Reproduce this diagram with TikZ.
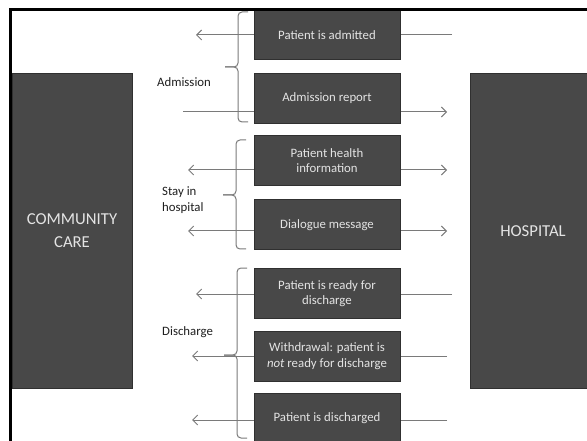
\documentclass[tikz,border=0pt]{standalone}
\usepackage{fontspec}
\setmainfont{Carlito}
\usepackage{tikz}
\usetikzlibrary{arrows.meta, positioning, calc}
\definecolor{BoxGrey}{HTML}{484848}
\definecolor{BoxEdge}{HTML}{303030}
\definecolor{BoxText}{HTML}{E4E4E4}
\definecolor{LineGrey}{HTML}{7A7A7A}
\definecolor{LabelInk}{HTML}{1E1E1E}
\tikzset{
  msgbox/.style={rectangle, fill=BoxGrey, draw=BoxEdge, line width=1pt,
                 minimum width=146pt, minimum height=50pt, text=BoxText,
                 font=\fontsize{12.8}{15.5}\selectfont, align=center},
  sidebox/.style={rectangle, fill=BoxGrey, draw=BoxEdge, line width=1pt,
                  minimum height=314pt, text=BoxText,
                  font=\fontsize{16.7}{23}\selectfont, align=center},
  flow/.style={draw=LineGrey, line width=1pt},
  arr/.style={flow, -{Straight Barb[length=5pt,width=10pt]}},
  brace/.style={draw=LineGrey, line width=1pt, rounded corners=4pt},
  grouplabel/.style={text=LabelInk, font=\fontsize{12.8}{16}\selectfont,
                     align=left, inner sep=0pt, anchor=west}
}

\begin{document}
\begin{tikzpicture}[x=1pt, y=-1pt]
    \clip (0,0) rectangle (587,441);

    % The two parties
    \node[sidebox, minimum width=120pt] (community) at (72,231) {COMMUNITY\\CARE};
    \node[sidebox, minimum width=126pt] (hospital) at (533,231) {HOSPITAL};

    % Messages
    \node[msgbox] (admitted) at (327,35) {Patient is admitted};
    \node[msgbox] (report) at (327,98.5) {Admission report};
    \node[msgbox] (health) at (327,160.5) {Patient health\\information};
    \node[msgbox] (dialogue) at (327,225) {Dialogue message};
    \node[msgbox] (ready) at (327,293.5) {Patient is ready for\\discharge};
    \node[msgbox] (withdrawal) at (327,356) {Withdrawal: patient is\\\textit{not} ready for discharge};
    \node[msgbox] (discharged) at (327,418) {Patient is discharged};

    % Loose ends of the arrows
    \coordinate (admittedC) at (196,35);   \coordinate (admittedH) at (452,35);
    \coordinate (reportC) at (183,112);    \coordinate (reportH) at (447,112);
    \coordinate (healthC) at (188,170);    \coordinate (healthH) at (447,170);
    \coordinate (dialogueC) at (188,231);  \coordinate (dialogueH) at (447,231);
    \coordinate (readyC) at (196,294);     \coordinate (readyH) at (452,294);
    \coordinate (withdrawalC) at (192,356); \coordinate (withdrawalH) at (447,356);
    \coordinate (dischargedC) at (192,420); \coordinate (dischargedH) at (447,420);

    % Admission
    \draw[arr] (admittedC -| admitted.west) -- (admittedC);
    \draw[flow] (admittedH) -- (admittedH -| admitted.east);
    \draw[flow] (reportC) -- (reportC -| report.west);
    \draw[arr] (reportH -| report.east) -- (reportH);

    % Stay in hospital
    \draw[arr] (healthC -| health.west) -- (healthC);
    \draw[arr] (healthH -| health.east) -- (healthH);
    \draw[arr] (dialogueC -| dialogue.west) -- (dialogueC);
    \draw[arr] (dialogueH -| dialogue.east) -- (dialogueH);

    % Discharge
    \draw[arr] (readyC -| ready.west) -- (readyC);
    \draw[flow] (readyH) -- (readyH -| ready.east);
    \draw[arr] (withdrawalC -| withdrawal.west) -- (withdrawalC);
    \draw[flow] (withdrawalH) -- (withdrawalH -| withdrawal.east);
    \draw[arr] (dischargedC -| discharged.west) -- (dischargedC);
    \draw[flow] (dischargedH) -- (dischargedH -| discharged.east);

    % Braces
    \draw[brace] (248,12) -- (238,12) -- (238,67) -- (225,67);
    \draw[brace] (248,122) -- (238,122) -- (238,67) -- (225,67);
    \draw[brace] (246,140) -- (236,140) -- (236,195) -- (223,195);
    \draw[brace] (246,249) -- (236,249) -- (236,195) -- (223,195);
    \draw[brace] (247,268) -- (237,268) -- (237,355) -- (224,355);
    \draw[brace] (247,438) -- (237,438) -- (237,355) -- (224,355);

    % Group labels
    \node[grouplabel] (admLabel) at (157,82) {Admission};
    \node[grouplabel] (stayLabel) at (162,200) {Stay in\\hospital};
    \node[grouplabel] (disLabel) at (162,332) {Discharge};

    % Frame
    \draw[line width=2.5pt] (10.5,441) -- (10.5,9.5) -- (587,9.5);
\end{tikzpicture}
\end{document}
